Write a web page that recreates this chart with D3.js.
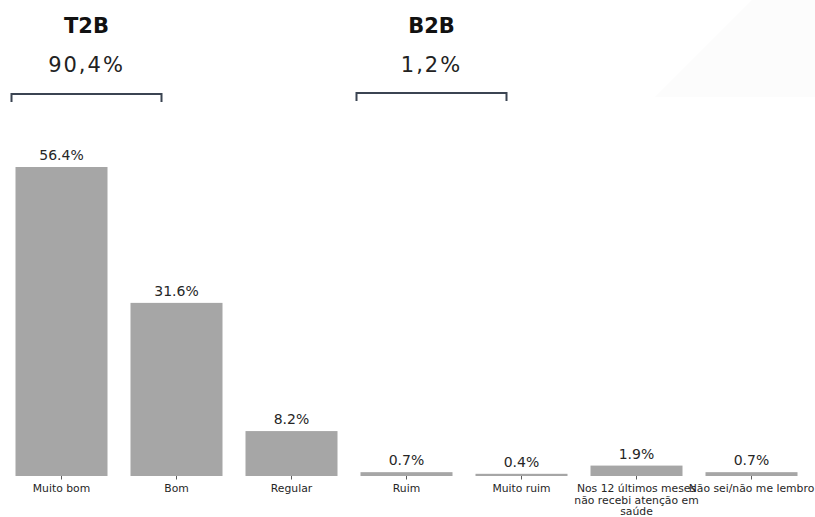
<!DOCTYPE html>
<html>
<head>
<meta charset="utf-8">
<script src="https://cdn.jsdelivr.net/npm/d3@7"></script>
<style>
  body { margin: 0; background: #fff; }
  svg { display: block; }
</style>
</head>
<body>
<div id="chart"></div>
<script>
var svgWidth = 815;
var svgHeight = 517;

// chart data
var categories = ["Muito bom", "Bom", "Regular", "Ruim", "Muito ruim",
  "Nos 12 últimos meses não recebi atenção em saúde", "Não sei/não me lembro"];
var values = [56.4, 31.6, 8.2, 0.7, 0.4, 1.9, 0.7];

// summary groups above the bars
var groupNames = ["T2B", "B2B"];
var groupValues = ["90,4%", "1,2%"];
var groupFirst = [0, 3];   // first category of each bracket
var groupLast = [1, 4];    // last category of each bracket

var margin = { top: 167, right: 6, bottom: 41, left: 4 };
var width = svgWidth - margin.left - margin.right;
var height = svgHeight - margin.top - margin.bottom;

var svg = d3.select("#chart")
  .append("svg")
  .attr("width", svgWidth)
  .attr("height", svgHeight);

// very faint diagonal shading in the top right corner
svg.append("path")
  .attr("d", "M655,97L752,0H815V97Z")
  .attr("fill", "#fcfcfc");

var chartGroup = svg.append("g")
  .attr("transform", `translate(${margin.left}, ${margin.top})`);

var xScale = d3.scaleBand()
  .domain(categories)
  .range([0, width])
  .paddingInner(0.2)
  .paddingOuter(0.1);

var yScale = d3.scaleLinear()
  .domain([0, values[0]])
  .range([height, 0]);

// bars
chartGroup.selectAll("rect.bar")
  .data(values)
  .enter()
  .append("rect")
  .attr("class", "bar")
  .attr("x", (d, i) => xScale(categories[i]))
  .attr("y", d => yScale(d))
  .attr("width", xScale.bandwidth())
  .attr("height", d => height - yScale(d))
  .attr("fill", "#a6a6a6");

// value labels
chartGroup.selectAll("text.val")
  .data(values)
  .enter()
  .append("text")
  .attr("class", "val")
  .attr("x", (d, i) => xScale(categories[i]) + xScale.bandwidth() / 2)
  .attr("y", d => yScale(d) - 7)
  .attr("text-anchor", "middle")
  .attr("font-family", "DejaVu Sans")
  .attr("font-size", 14)
  .attr("fill", "#262626")
  .text(d => d.toFixed(1) + "%");

// x axis
var xAxis = chartGroup.append("g")
  .attr("transform", `translate(0, ${height})`)
  .call(d3.axisBottom(xScale).tickSize(3.5).tickPadding(4.5).tickSizeOuter(0));

xAxis.select(".domain").remove();
xAxis.selectAll(".tick line").attr("stroke", "#333").attr("stroke-width", 0.8);
xAxis.selectAll(".tick text")
  .attr("font-family", "DejaVu Sans")
  .attr("font-size", 10.8)
  .attr("fill", "#262626")
  .each(function(d) {
    // wrap the long label onto several lines
    var t = d3.select(this);
    if (d.length > 25) {
      var lines = ["Nos 12 últimos meses", "não recebi atenção em", "saúde"];
      t.text(null);
      lines.forEach(function(l, k) {
        t.append("tspan")
          .attr("x", 0)
          .attr("dy", k === 0 ? "0.71em" : "1.1em")
          .text(l);
      });
      t.attr("dy", null);
    }
  });

// group brackets and headers
var bracketColor = "#3b4452";
groupNames.forEach(function(name, g) {
  var x0 = margin.left + xScale(categories[groupFirst[g]]) - 4;
  var x1 = margin.left + xScale(categories[groupLast[g]]) + 31;
  var cx = (x0 + x1) / 2;
  var by = g === 0 ? 94 : 93;

  svg.append("path")
    .attr("d", `M${x0},${by + 8}V${by}H${x1}V${by + 8}`)
    .attr("fill", "none")
    .attr("stroke", bracketColor)
    .attr("stroke-width", 2);

  svg.append("text")
    .attr("x", cx)
    .attr("y", 33)
    .attr("text-anchor", "middle")
    .attr("font-family", "'DejaVu Sans', sans-serif")
    .attr("font-weight", "bold")
    .attr("font-size", 21)
    .attr("fill", "#111")
    .text(name);

  svg.append("text")
    .attr("x", cx)
    .attr("y", 72)
    .attr("text-anchor", "middle")
    .attr("font-family", "'DejaVu Sans', sans-serif")
    .attr("font-size", 21)
    .attr("letter-spacing", 2)
    .attr("fill", "#222")
    .text(groupValues[g]);
});
</script>
</body>
</html>
